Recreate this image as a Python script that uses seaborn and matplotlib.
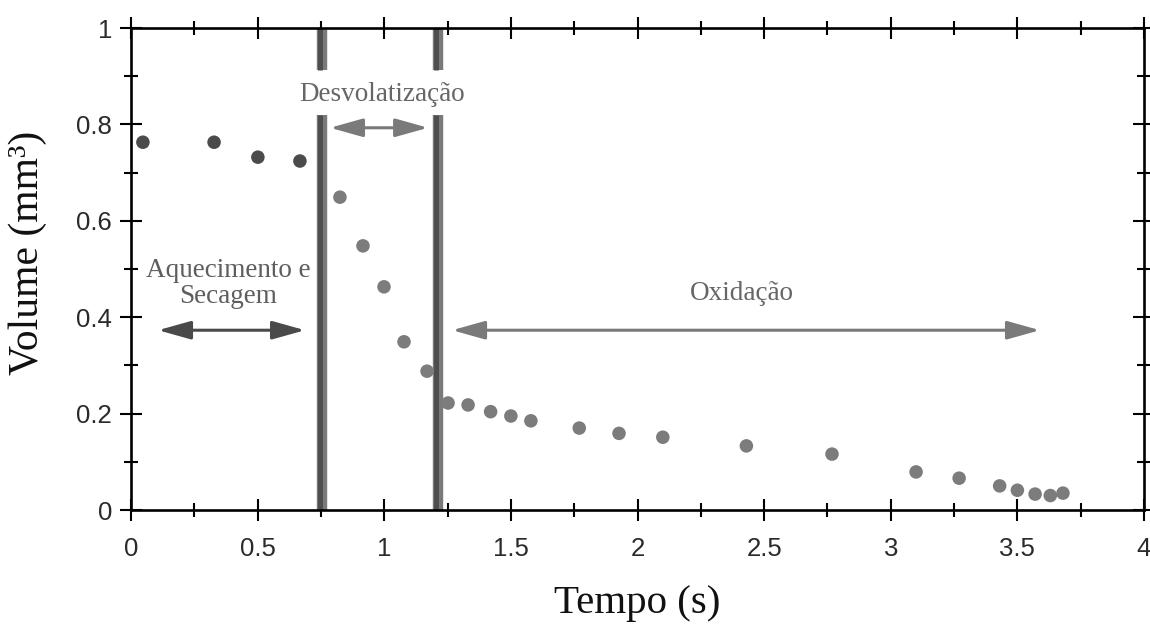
import matplotlib
matplotlib.use("Agg")
import matplotlib.pyplot as plt
import seaborn as sns
import pandas as pd
from matplotlib.transforms import offset_copy

# ---- data ----
tempo = [0.047, 0.328, 0.501, 0.667,
         0.825, 0.916, 0.999, 1.078, 1.169,
         1.252, 1.331, 1.420, 1.500, 1.579, 1.770, 1.927, 2.100, 2.430,
         2.768, 3.100, 3.270, 3.430, 3.500, 3.570, 3.630, 3.680]
volume = [0.763, 0.763, 0.732, 0.724,
          0.649, 0.548, 0.463, 0.349, 0.288,
          0.222, 0.218, 0.204, 0.195, 0.185, 0.170, 0.159, 0.151, 0.133,
          0.116, 0.079, 0.066, 0.050, 0.041, 0.033, 0.030, 0.035]
fase = ["aquecimento"] * 4 + ["restante"] * 22

phase_bounds = [0.756, 1.214]
label_gap = (0.819, 0.913)

x_ticks = [0, 0.5, 1, 1.5, 2, 2.5, 3, 3.5, 4]
x_tick_labels = ["0", "0.5", "1", "1.5", "2", "2.5", "3", "3.5", "4"]
y_ticks = [0, 0.2, 0.4, 0.6, 0.8, 1]
y_tick_labels = ["0", "0.2", "0.4", "0.6", "0.8", "1"]

df = pd.DataFrame({"Tempo": tempo, "Volume": volume, "fase": fase})

sns.set_theme(style="white")
plt.rcParams["font.family"] = ["Liberation Sans", "DejaVu Sans"]

fig = plt.figure(figsize=(11.5, 6.27), dpi=100)
ax = fig.add_axes([131 / 1150, 117 / 627, 1013 / 1150, 482 / 627])

sns.scatterplot(data=df, x="Tempo", y="Volume", hue="fase",
                palette={"aquecimento": "#4b4b4b", "restante": "#7c7c7c"},
                s=95, linewidth=0, legend=False, ax=ax, zorder=3)

# phase boundary lines (two-tone, with a gap behind the label)
dark_tr = offset_copy(ax.transData, fig=fig, x=-2.2, y=0, units="dots")
for xb in phase_bounds:
    for (y0, y1) in [(0, label_gap[0]), (label_gap[1], 1.0)]:
        ax.plot([xb, xb], [y0, y1], color="#7a7a7a", lw=7.5,
                solid_capstyle="butt", zorder=2)
        ax.plot([xb, xb], [y0, y1], color="#4e4e4e", lw=3.6,
                solid_capstyle="butt", zorder=2, transform=dark_tr)

serif = ["Liberation Serif", "DejaVu Serif"]
arrow_kw = dict(arrowstyle="<|-|>,head_length=1.0,head_width=0.28",
                lw=2.2, mutation_scale=20, shrinkA=0, shrinkB=0)

ax.annotate("", xy=(0.687, 0.373), xytext=(0.107, 0.373),
            arrowprops=dict(color="#4a4a4a", **arrow_kw))
ax.annotate("", xy=(1.173, 0.793), xytext=(0.786, 0.793),
            arrowprops=dict(color="#7a7a7a", **arrow_kw))
ax.annotate("", xy=(3.589, 0.373), xytext=(1.268, 0.373),
            arrowprops=dict(color="#7a7a7a", **arrow_kw))

ax.text(0.383, 0.470, "Aquecimento e\nSecagem", ha="center", va="center",
        family=serif, fontsize=19.5, color="#5e5e5e", linespacing=1.1)
ax.text(0.991, 0.862, "Desvolatização", ha="center", va="center",
        family=serif, fontsize=19.5, color="#666666")
ax.text(2.413, 0.450, "Oxidação", ha="center", va="center",
        family=serif, fontsize=19.5, color="#666666")

ax.set_xlim(0, 4)
ax.set_ylim(0, 1)
ax.set_xticks(x_ticks)
ax.set_xticklabels(x_tick_labels)
ax.set_yticks(y_ticks)
ax.set_yticklabels(y_tick_labels)
ax.set_xticks([0.25 + 0.5 * i for i in range(8)], minor=True)
ax.set_yticks([0.1 + 0.2 * i for i in range(5)], minor=True)

ax.tick_params(which="both", direction="inout", top=True, right=True,
               bottom=True, left=True, color="black", width=1.5)
ax.tick_params(which="major", length=16.5, labelsize=18.5, labelcolor="#2a2a2a")
ax.tick_params(which="minor", length=9.5)
ax.tick_params(axis="x", which="major", pad=11)
ax.tick_params(axis="y", which="major", pad=5.5)

for sp in ax.spines.values():
    sp.set_visible(True)
    sp.set_color("black")
    sp.set_linewidth(1.9)

ax.set_xlabel("Tempo (s)", family=serif, fontsize=29.5, color="#111111")
ax.set_ylabel("Volume (mm³)", family=serif, fontsize=30, color="#111111")
ax.xaxis.set_label_coords(0.5, (510 - 603) / 482)
ax.xaxis.label.set_va("center")
ax.yaxis.set_label_coords((28 - 131) / 1013, (510 - 253) / 482)
ax.yaxis.label.set_va("center")

fig.savefig("out.png", dpi=100)
